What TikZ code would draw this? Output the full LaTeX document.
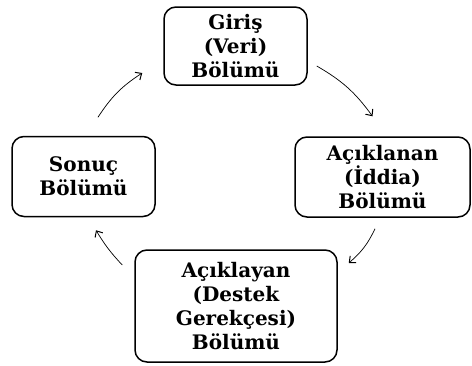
\documentclass[tikz,border=0pt]{standalone}
\usepackage{fontspec}
\setmainfont{DejaVu Serif}
\usetikzlibrary{arrows.meta}

\begin{document}
\begin{tikzpicture}[x=1pt,y=-1pt,
		bolum/.style={draw, line width=1.5pt, rounded corners=12pt, align=center,
				inner sep=0pt, font=\fontsize{20}{24}\selectfont\bfseries},
		ok/.style={-{Straight Barb[length=5pt,width=9pt,line width=1pt]}, line width=0.7pt}]
		\useasboundingbox (0,0) rectangle (472,365);

		% Boxes
		\node[bolum, minimum width=143pt, minimum height=78pt] (giris) at (235.5,46) {Giriş\\(Veri)\\Bölümü};
		\node[bolum, minimum width=175pt, minimum height=80pt] (iddia) at (382.5,177) {Açıklanan\\(İddia)\\Bölümü};
		\node[bolum, minimum width=202pt, minimum height=112pt] (destek) at (236,306) {Açıklayan\\(Destek\\Gerekçesi)\\Bölümü};
		\node[bolum, minimum width=143pt, minimum height=80pt] (sonuc) at (83.5,176.5) {Sonuç\\Bölümü};

		% Arrows
		\draw[ok] ([shift={(14.5,-18.5)}]sonuc.north) to[bend left=12] ([shift={(-21,27)}]giris.west);
		\draw[ok] ([shift={(9,20)}]giris.east) to[bend left=12] ([shift={(-10,-20)}]iddia.north);
		\draw[ok] ([shift={(-7.5,11)}]iddia.south) to[bend left=12] ([shift={(11,-43)}]destek.east);
		\draw[ok] ([shift={(-12,-41)}]destek.west) to[bend left=6] ([shift={(12.5,13)}]sonuc.south);
	\end{tikzpicture}
\end{document}
